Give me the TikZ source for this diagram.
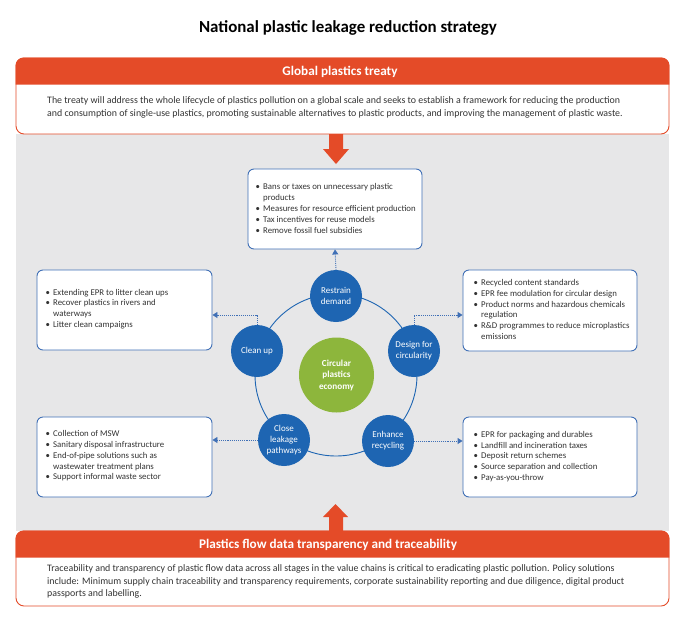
\documentclass[tikz,border=0pt]{standalone}
\usepackage{fontspec}
\setmainfont{Carlito}
\usepackage{xcolor}
\usetikzlibrary{arrows.meta}

\definecolor{leakorange}{RGB}{228,75,40}
\definecolor{pillarblue}{RGB}{30,101,178}
\definecolor{boxblue}{RGB}{64,112,182}
\definecolor{hubgreen}{RGB}{141,182,60}
\definecolor{backgray}{RGB}{231,231,232}

\newcommand{\bl}{\makebox[7.5pt][l]{\textbullet}}
\newcommand{\nb}{\hspace*{7.5pt}}

\tikzset{
  panel/.style={draw=leakorange, line width=0.9pt, fill=white, rounded corners=8pt, inner sep=0pt},
  panelhead/.style={text=white, font=\bfseries\fontsize{13.2}{15}\selectfont, inner sep=0pt},
  paneltext/.style={align=left, anchor=west, inner sep=0pt, text=black!80, font=\fontsize{9.9}{12.3}\selectfont},
  itembox/.style={draw=boxblue, line width=0.9pt, fill=white, rounded corners=6pt, inner sep=0pt},
  itemtext/.style={align=left, anchor=west, inner sep=0pt, text=black!80, font=\fontsize{8.8}{10.8}\selectfont},
  pillar/.style={circle, fill=pillarblue, minimum size=52pt, inner sep=0pt, align=center, text=white, font=\fontsize{9}{11}\selectfont},
  hub/.style={circle, fill=hubgreen, minimum size=75pt, inner sep=0pt, align=center, text=white, font=\bfseries\fontsize{9.2}{11.5}\selectfont},
  dotlink/.style={draw=boxblue, line width=0.9pt, densely dotted, -{Triangle[length=5pt,width=6pt]}},
  blockarrow/.style={fill=leakorange, draw=none}
}

\begin{document}
\begin{tikzpicture}[x=1pt,y=1pt,yscale=-1,xscale=1]
        \useasboundingbox[fill=white] (0,0) rectangle (680,619);

        % background and title
        \fill[backgray] (16,134) rectangle (669,531);
        \node[font=\bfseries\fontsize{16.9}{19}\selectfont, inner sep=0pt] (title) at (348,28) {National plastic leakage reduction strategy};

        % top panel
        \node[panel, minimum width=653pt, minimum height=76pt] (treaty) at (342.5,96) {};
        \fill[leakorange] (treaty.north west) ++(0,27) [rounded corners=8pt] -- (treaty.north west) -- (treaty.north east) [sharp corners] -- ++(0,27) -- cycle;
        \node[panelhead] (treatyhead) at (340,71.5) {Global plastics treaty};
        \node[paneltext] (treatytext) at (47,107.5) {The treaty will address the whole lifecycle of plastics pollution on a global scale and seeks to establish a framework for reducing the production\\and consumption of single-use plastics, promoting sustainable alternatives to plastic products, and improving the management of plastic waste.};

        % bottom panel
        \node[panel, minimum width=653pt, minimum height=75pt] (traceability) at (342.5,568.5) {};
        \fill[leakorange] (traceability.north west) ++(0,27) [rounded corners=8pt] -- (traceability.north west) -- (traceability.north east) [sharp corners] -- ++(0,27) -- cycle;
        \node[panelhead] (traceabilityhead) at (328,544.5) {Plastics flow data transparency and traceability};
        \node[paneltext] (traceabilitytext) at (47,581.5) {Traceability and transparency of plastic flow data across all stages in the value chains is critical to eradicating plastic pollution. Policy solutions\\include: Minimum supply chain traceability and transparency requirements, corporate sustainability reporting and due diligence, digital product\\passports and labelling.};

        % block arrows
        \fill[blockarrow] (329,134) -- (343,134) -- (343,149) -- (349,149) -- (336,164) -- (323,149) -- (329,149) -- cycle;
        \fill[blockarrow] (329,531) -- (343,531) -- (343,517) -- (348,517) -- (335.5,504) -- (323,517) -- (329,517) -- cycle;

        % ring and circles
        \draw[pillarblue, line width=0.9pt] (336,375) circle (81);
        \node[hub] (economy) at (336.5,375) {Circular\\plastics\\economy};
        \node[pillar] (restrain) at (336,296) {Restrain\\demand};
        \node[pillar] (cleanup) at (257,351) {Clean up};
        \node[pillar] (design) at (414,351) {Design for\\circularity};
        \node[pillar] (leakage) at (284,440) {Close\\leakage\\pathways};
        \node[pillar] (enhance) at (388,441) {Enhance\\recycling};

        % item boxes
        \node[itembox, minimum width=174pt, minimum height=80pt] (restrainbox) at (335,209) {};
        \node[itemtext] (restraintext) at (255.5,208.5) {\bl Bans or taxes on unnecessary plastic\\\nb products\\\bl Measures for resource efficient production\\\bl Tax incentives for reuse models\\\bl Remove fossil fuel subsidies};

        \node[itembox, minimum width=175pt, minimum height=80pt] (cleanupbox) at (124.5,310) {};
        \node[itemtext] (cleanuptext) at (45.5,309) {\bl Extending EPR to litter clean ups\\\bl Recover plastics in rivers and\\\nb waterways\\\bl Litter clean campaigns};

        \node[itembox, minimum width=174pt, minimum height=81pt] (designbox) at (550,310.5) {};
        \node[itemtext] (designtext) at (473.5,309.5) {\bl Recycled content standards\\\bl EPR fee modulation for circular design\\\bl Product norms and hazardous chemicals\\\nb regulation\\\bl R\&D programmes to reduce microplastics\\\nb emissions};

        \node[itembox, minimum width=175pt, minimum height=80pt] (leakagebox) at (124.5,457) {};
        \node[itemtext] (leakagetext) at (45.5,456) {\bl Collection of MSW\\\bl Sanitary disposal infrastructure\\\bl End-of-pipe solutions such as\\\nb wastewater treatment plans\\\bl Support informal waste sector};

        \node[itembox, minimum width=174pt, minimum height=80pt] (enhancebox) at (550,457) {};
        \node[itemtext] (enhancetext) at (473.5,456.5) {\bl EPR for packaging and durables\\\bl Landfill and incineration taxes\\\bl Deposit return schemes\\\bl Source separation and collection\\\bl Pay-as-you-throw};

        % dotted connectors
        \coordinate (cleanupbend) at (257,315);
        \coordinate (designbend) at (414,315);
        \draw[dotlink] (restrain.north) -- (restrainbox.south);
        \draw[dotlink] (cleanup.north) -- (cleanupbend) -- (cleanupbox.east |- cleanupbend);
        \draw[dotlink] (design.north) -- (designbend) -- (designbox.west |- designbend);
        \draw[dotlink] (leakage.west) -- (leakagebox.east |- leakage.west);
        \draw[dotlink] (enhance.east) -- (enhancebox.west |- enhance.east);
    \end{tikzpicture}
\end{document}
